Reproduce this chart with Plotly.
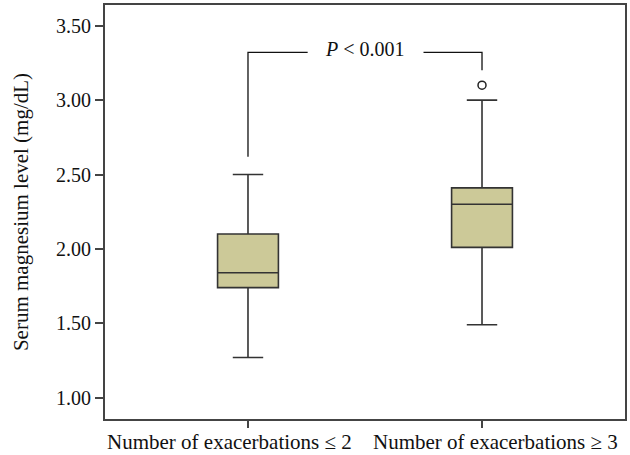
import plotly.graph_objects as go

categories = ["Number of exacerbations \u2264 2", "Number of exacerbations \u2265 3"]
positions = [0, 1]
lower_whisker = [1.27, 1.49]
q1 = [1.74, 2.01]
median = [1.84, 2.30]
q3 = [2.10, 2.41]
upper_whisker = [2.50, 3.00]
outlier_x = [1]
outlier_y = [3.10]
bracket_left_bottom = 2.62
bracket_right_bottom = 3.20
bracket_top = 3.32
p_text = "<i>P</i> < 0.001"
y_ticks = [1.0, 1.5, 2.0, 2.5, 3.0, 3.5]

FONT = "Liberation Serif, Times New Roman, serif"
FILL = "#CCC998"
LINE = "#333333"

fig = go.Figure()
for i in range(2):
    fig.add_trace(go.Box(
        x=[positions[i]], q1=[q1[i]], median=[median[i]], q3=[q3[i]],
        lowerfence=[lower_whisker[i]], upperfence=[upper_whisker[i]],
        fillcolor=FILL, line=dict(color=LINE, width=1.6),
        width=0.26, whiskerwidth=0.5, boxpoints=False, showlegend=False,
        hoverinfo="skip",
    ))
fig.add_trace(go.Scatter(
    x=outlier_x, y=outlier_y, mode="markers",
    marker=dict(symbol="circle-open", size=8, color="#222222", line=dict(width=1.5)),
    showlegend=False, hoverinfo="skip",
))

# significance bracket
gap_l, gap_r = 0.255, 0.75
fig.add_trace(go.Scatter(
    x=[positions[0], positions[0], gap_l], y=[bracket_left_bottom, bracket_top, bracket_top],
    mode="lines", line=dict(color="#111111", width=1.3), showlegend=False, hoverinfo="skip"))
fig.add_trace(go.Scatter(
    x=[gap_r, positions[1], positions[1]], y=[bracket_top, bracket_top, bracket_right_bottom],
    mode="lines", line=dict(color="#111111", width=1.3), showlegend=False, hoverinfo="skip"))
fig.add_annotation(x=0.5, y=bracket_top, yshift=3, text=p_text, showarrow=False,
                   font=dict(family=FONT, size=20, color="#111111"), xref="x", yref="y")

# category labels (placed like the reference, slightly off-centre from ticks)
label_shift = [-18, 13]
for i in range(2):
    fig.add_annotation(x=positions[i], y=0, xref="x", yref="paper", text=categories[i],
                       showarrow=False, yanchor="middle", yshift=-23, xshift=label_shift[i],
                       font=dict(family=FONT, size=21, color="#111111"))

fig.update_layout(
    width=630, height=455,
    margin=dict(l=105, r=5, t=5, b=36),
    paper_bgcolor="white", plot_bgcolor="white",
    font=dict(family=FONT, size=20, color="#111111"),
)
fig.update_xaxes(
    range=[-0.611, 1.611], tickvals=positions, showticklabels=False,
    showgrid=False, zeroline=False, showline=True, linecolor="#444444", linewidth=2,
    mirror=True, ticks="outside", ticklen=7, tickcolor="#444444", tickwidth=1.5,
    automargin=False,
)
fig.update_yaxes(
    range=[0.857, 3.639], tickvals=y_ticks, tickformat=".2f",
    showgrid=False, zeroline=False, showline=True, linecolor="#444444", linewidth=2,
    mirror=True, ticks="outside", ticklen=8, tickcolor="#444444", tickwidth=1.5,
    title=dict(text="Serum magnesium level (mg/dL)", font=dict(size=21), standoff=22),
    tickfont=dict(size=20), automargin=False,
)

fig.write_html("out.html", config={"displayModeBar": False},
               post_script="document.body.style.margin='0';document.body.style.overflow='hidden';")
